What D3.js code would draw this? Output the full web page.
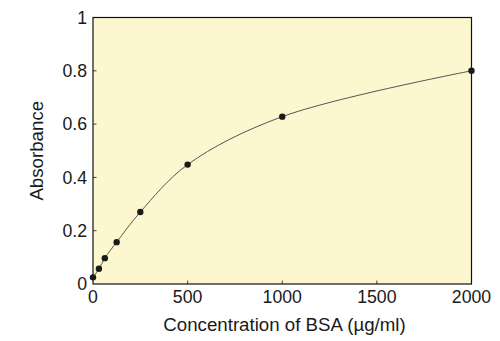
<!DOCTYPE html>
<html><head><meta charset="utf-8">
<script src="https://cdn.jsdelivr.net/npm/d3@7"></script>
<style>body{margin:0;background:#fff;}svg{display:block;font-family:"Liberation Sans",Arial,sans-serif;}</style>
</head><body>
<svg id="c" width="500" height="341"></svg>
<script>
const concentrations = [0, 31.25, 62.5, 125, 250, 500, 1000, 2000];
const absorbance = [0.025, 0.057, 0.097, 0.157, 0.27, 0.448, 0.628, 0.8];
const xTicks = [0, 500, 1000, 1500, 2000];
const yTicks = [0, 0.2, 0.4, 0.6, 0.8, 1];
const xLabel = "Concentration of BSA (µg/ml)";
const yLabel = "Absorbance";

const svg = d3.select("#c");
const L = 93, R = 471.5, T = 17.5, B = 284;
const x = d3.scaleLinear().domain([0, 2000]).range([L, R]);
const y = d3.scaleLinear().domain([0, 1]).range([B, T]);

svg.append("rect").attr("x", L).attr("y", T).attr("width", R - L).attr("height", B - T)
  .attr("fill", "#fdf7cf");

// ticks inward
const tickColor = "#444";
svg.append("g").selectAll("line").data(xTicks.slice(1, -1)).join("line")
  .attr("x1", d => x(d)).attr("x2", d => x(d)).attr("y1", B).attr("y2", B - 3.5)
  .attr("stroke", tickColor).attr("stroke-width", 1);
svg.append("g").selectAll("line").data(yTicks.slice(1, -1)).join("line")
  .attr("x1", L).attr("x2", L + 3.5).attr("y1", d => y(d)).attr("y2", d => y(d))
  .attr("stroke", tickColor).attr("stroke-width", 1);

svg.append("rect").attr("x", L).attr("y", T).attr("width", R - L).attr("height", B - T)
  .attr("fill", "none").attr("stroke", "#111").attr("stroke-width", 1.2);

// tick labels
svg.append("g").selectAll("text").data(xTicks).join("text")
  .attr("x", d => x(d)).attr("y", 302.5).attr("text-anchor", "middle")
  .attr("font-size", 17.7).attr("fill", "#1a1a1a").text(d => d);
svg.append("g").selectAll("text").data(yTicks).join("text")
  .attr("x", 87).attr("y", d => y(d) + 6.2).attr("text-anchor", "end")
  .attr("font-size", 17.7).attr("fill", "#1a1a1a").text(d => d);

svg.append("text").attr("x", 284.5).attr("y", 331).attr("text-anchor", "middle")
  .attr("font-size", 18.7).attr("fill", "#1a1a1a").text(xLabel);
svg.append("text").attr("transform", `translate(43,${(T + B) / 2}) rotate(-90)`)
  .attr("text-anchor", "middle").attr("font-size", 18.7).attr("fill", "#1a1a1a").text(yLabel);

const pts = concentrations.map((c, i) => [c, absorbance[i]]);
svg.append("path").datum(pts)
  .attr("d", d3.line().x(d => x(d[0])).y(d => y(d[1])).curve(d3.curveCatmullRom.alpha(0.5)))
  .attr("fill", "none").attr("stroke", "#555").attr("stroke-width", 1);
svg.append("g").selectAll("circle").data(pts).join("circle")
  .attr("cx", d => x(d[0])).attr("cy", d => y(d[1])).attr("r", 3.2).attr("fill", "#1a1a1a");
</script>
</body></html>
